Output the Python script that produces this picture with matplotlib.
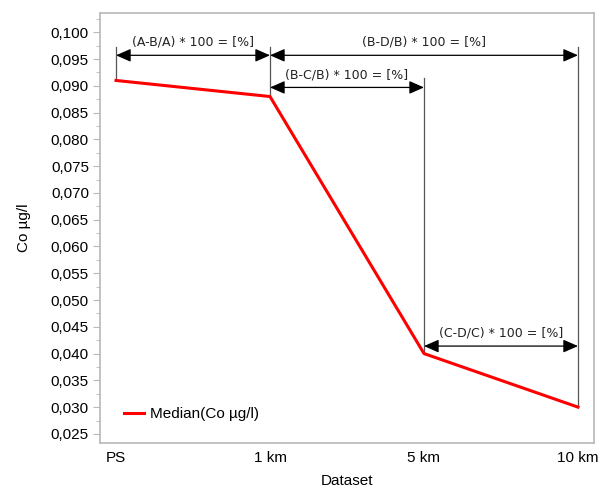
import matplotlib.pyplot as plt
from matplotlib.ticker import MultipleLocator, FuncFormatter

# Median cobalt concentration by distance from the point source
datasets = ['PS', '1 km', '5 km', '10 km']
median_co = [0.091, 0.088, 0.040, 0.030]

# Percentage-change brackets: (start index, end index, level, label)
brackets = [
    (0, 1, 0.0957, '(A-B/A) * 100 = [%]'),
    (1, 3, 0.0957, '(B-D/B) * 100 = [%]'),
    (1, 2, 0.0897, '(B-C/B) * 100 = [%]'),
    (2, 3, 0.0414, '(C-D/C) * 100 = [%]'),
]
# Top of the vertical guide line at each dataset
guide_tops = [0.0972, 0.0972, 0.0914, 0.0972]

plt.rcParams['font.family'] = ['Liberation Sans', 'DejaVu Sans']

fig = plt.figure(figsize=(6.05, 4.88), dpi=100)
ax = fig.add_axes([100 / 605, 45 / 488, 494 / 605, 430 / 488])

x = list(range(len(datasets)))
ax.plot(x, median_co, color='#ff0000', linewidth=2.2, label='Median(Co µg/l)', zorder=3)

# vertical guide lines from the curve up to the brackets
for xi, top, val in zip(x, guide_tops, median_co):
    ax.plot([xi, xi], [val, top], color='#555555', linewidth=0.9, zorder=2)

for i0, i1, lvl, txt in brackets:
    ax.annotate('', xy=(i0, lvl), xytext=(i1, lvl),
                arrowprops=dict(arrowstyle='<|-|>,head_length=0.5,head_width=0.22',
                                color='black', lw=0.9, mutation_scale=18,
                                shrinkA=0, shrinkB=0))
    ax.text((i0 + i1) / 2, lvl + 0.0012, txt, ha='center', va='bottom',
            fontsize=9, family='DejaVu Sans', color='#222222')

ax.set_xlim(-0.104, 3.104)
ax.set_ylim(0.0233, 0.1036)
ax.set_xticks(x)
ax.set_xticklabels(datasets)
ax.yaxis.set_major_locator(MultipleLocator(0.005))
ax.yaxis.set_minor_locator(MultipleLocator(0.0025))
ax.yaxis.set_major_formatter(FuncFormatter(lambda v, p: f'{v:.3f}'.replace('.', ',')))

for side in ['left', 'right', 'top', 'bottom']:
    ax.spines[side].set_color('#b8b8b8')
    ax.spines[side].set_linewidth(1.2)
ax.tick_params(axis='x', length=0, labelsize=11, pad=6)
ax.tick_params(axis='y', which='major', length=5, color='#b8b8b8', labelsize=11, pad=3)
ax.tick_params(axis='y', which='minor', length=3, color='#b8b8b8')

ax.set_xlabel('Dataset', fontsize=11, labelpad=6)
ax.set_ylabel('Co µg/l', fontsize=11, labelpad=14)

ax.legend(loc='lower left', frameon=False, fontsize=11, handlelength=1.3,
          handletextpad=0.4, borderaxespad=0.2, bbox_to_anchor=(0.03, 0.03))

fig.savefig('out.png', dpi=100)
